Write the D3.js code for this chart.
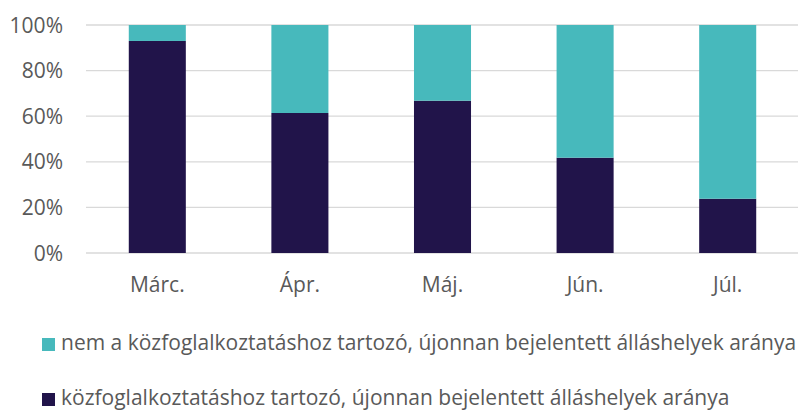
<!DOCTYPE html>
<html>
<head>
<meta charset="utf-8">
<script src="https://cdn.jsdelivr.net/npm/d3@7"></script>
<style>
  body { margin: 0; background: #fff; }
  svg text { font-family: "Open Sans", sans-serif; fill: #595959; }
</style>
</head>
<body>
<div id="chart"></div>
<script>
// chart data
var months = ["Márc.", "Ápr.", "Máj.", "Jún.", "Júl."];
var kozfoglalkoztatas = [0.93, 0.614, 0.668, 0.418, 0.238];
var nemKozfoglalkoztatas = [0.07, 0.386, 0.332, 0.582, 0.762];
var yTicks = [0, 0.2, 0.4, 0.6, 0.8, 1];
var seriesNames = [
  "nem a közfoglalkoztatáshoz tartozó, újonnan bejelentett álláshelyek aránya",
  "közfoglalkoztatáshoz tartozó, újonnan bejelentett álláshelyek aránya"
];

var width = 798, height = 412;
var margin = {top: 25, right: -1, bottom: 159, left: 86};

var color = {dark: "#21144a", teal: "#47b9bc"};

var svg = d3.select("#chart")
  .append("svg")
    .attr("width", width)
    .attr("height", height);

var x = d3.scaleBand()
  .domain(months)
  .range([margin.left, width - margin.right])
  .paddingInner(0.6)
  .paddingOuter(0.3);

var y = d3.scaleLinear()
  .domain([0, 1])
  .range([height - margin.bottom, margin.top]);

// gridlines
svg.append("g")
  .selectAll("line")
  .data(yTicks)
  .enter()
  .append("line")
    .attr("x1", margin.left)
    .attr("x2", width - margin.right)
    .attr("y1", function(d) { return y(d); })
    .attr("y2", function(d) { return y(d); })
    .attr("stroke", "#d9d9d9")
    .attr("stroke-width", 1.3);

// y tick labels
svg.append("g")
  .selectAll("text")
  .data(yTicks)
  .enter()
  .append("text")
    .attr("x", 63)
    .attr("y", function(d) { return y(d); })
    .attr("dy", "0.36em")
    .attr("text-anchor", "end")
    .style("font-size", "21px")
    .text(function(d) { return d3.format(".0%")(d); });

// stacked bars
var rows = months.map(function(m, i) {
  return {month: m, dark: kozfoglalkoztatas[i], teal: nemKozfoglalkoztatas[i]};
});

var bars = svg.append("g");

bars.selectAll(".darkBar")
  .data(rows)
  .enter()
  .append("rect")
    .attr("class", "darkBar")
    .attr("x", function(d) { return x(d.month); })
    .attr("width", x.bandwidth())
    .attr("y", function(d) { return y(d.dark); })
    .attr("height", function(d) { return y(0) - y(d.dark); })
    .attr("fill", color.dark);

bars.selectAll(".tealBar")
  .data(rows)
  .enter()
  .append("rect")
    .attr("class", "tealBar")
    .attr("x", function(d) { return x(d.month); })
    .attr("width", x.bandwidth())
    .attr("y", function(d) { return y(d.dark + d.teal); })
    .attr("height", function(d) { return y(d.dark) - y(d.dark + d.teal); })
    .attr("fill", color.teal);

// category labels
svg.append("g")
  .selectAll("text")
  .data(months)
  .enter()
  .append("text")
    .attr("x", function(d) { return x(d) + x.bandwidth() / 2; })
    .attr("y", 292)
    .attr("text-anchor", "middle")
    .style("font-size", "21px")
    .text(function(d) { return d; });

// legend
var legendColors = [color.teal, color.dark];
var legend = svg.append("g")
  .selectAll("g")
  .data(seriesNames)
  .enter()
  .append("g")
    .attr("transform", function(d, i) { return "translate(42," + (338 + i * 55) + ")"; });

legend.append("rect")
  .attr("width", 13)
  .attr("height", 13)
  .attr("fill", function(d, i) { return legendColors[i]; });

legend.append("text")
  .attr("x", 19)
  .attr("y", 12)
  .style("font-size", "21px")
  .text(function(d) { return d; });
</script>
</body>
</html>
